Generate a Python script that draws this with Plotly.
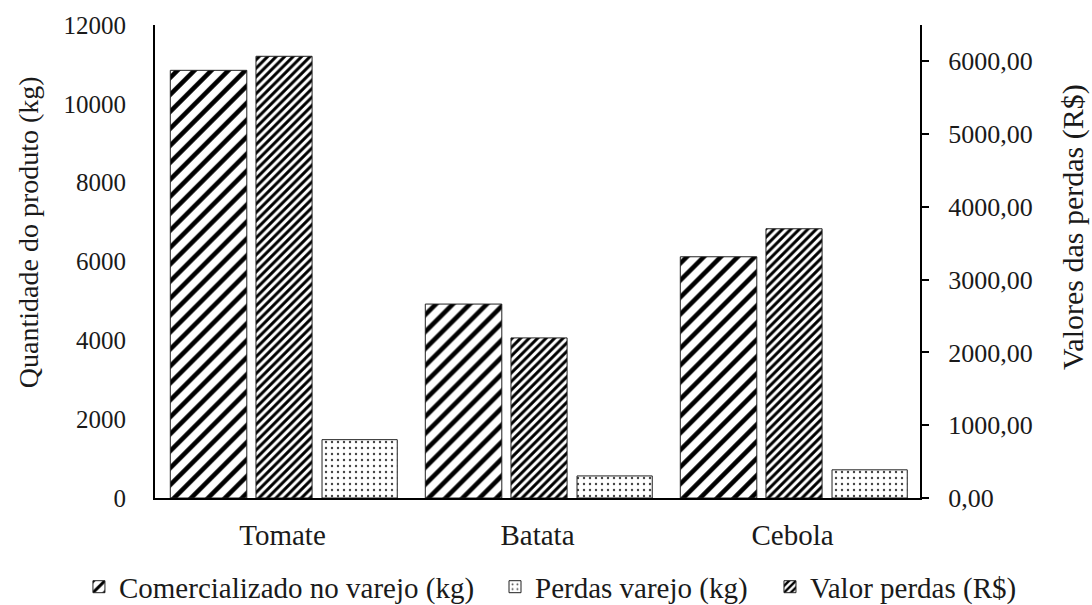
import plotly.graph_objects as go

categories = ["Tomate", "Batata", "Cebola"]
comercializado_kg = [10850, 4920, 6120]
perdas_kg = [1480, 560, 715]
valor_perdas_rs = [6070, 2200, 3700]

left_ticks = [0, 2000, 4000, 6000, 8000, 10000, 12000]
left_ticktext = ["0", "2000", "4000", "6000", "8000", "10000", "12000"]
right_ticks = [0, 1000, 2000, 3000, 4000, 5000, 6000]
right_ticktext = ["0,00", "1000,00", "2000,00", "3000,00", "4000,00", "5000,00", "6000,00"]

FONT = "Liberation Serif"
FS_TICK = 25
FS_CAT = 29
FS_LEG = 29

fig = go.Figure()

fig.add_trace(go.Bar(
    x=categories, y=comercializado_kg, name="Comercializado no varejo (kg)",
    offset=-0.44, width=0.30, yaxis="y", opacity=1, legend="legend",
    marker=dict(color="white", line=dict(color="#222222", width=1),
                pattern=dict(shape="/", fgcolor="black", bgcolor="white", fgopacity=1,
                             size=12, solidity=0.38)),
))
fig.add_trace(go.Bar(
    x=categories, y=perdas_kg, name="Perdas varejo (kg)",
    offset=0.155, width=0.295, yaxis="y", opacity=1, legend="legend2",
    marker=dict(color="white", line=dict(color="#222222", width=1),
                pattern=dict(shape=".", fgcolor="#444444", bgcolor="white", fgopacity=1,
                             size=6, solidity=0.12)),
))
fig.add_trace(go.Bar(
    x=categories, y=valor_perdas_rs, name="Valor perdas (R$)",
    offset=-0.104, width=0.22, yaxis="y2", opacity=1, legend="legend3",
    marker=dict(color="white", line=dict(color="#222222", width=1),
                pattern=dict(shape="/", fgcolor="black", bgcolor="white", fgopacity=1,
                             size=6, solidity=0.5)),
))

def leg(xpos):
    return dict(orientation="h", xref="container", yref="container",
                x=xpos, xanchor="left", y=0.03, yanchor="middle",
                font=dict(family=FONT, size=FS_LEG), itemwidth=30,
                bgcolor="rgba(0,0,0,0)")

fig.update_layout(
    width=1092, height=605,
    margin=dict(l=155, r=172, t=25, b=107),
    paper_bgcolor="white", plot_bgcolor="white",
    font=dict(family=FONT, size=FS_TICK, color="#1a1a1a"),
    barmode="group",
    showlegend=True,
    legend=leg(0.0723),
    legend2=leg(0.4533),
    legend3=leg(0.7051),
    xaxis=dict(range=[-0.5, 2.5], showline=True, linecolor="black", linewidth=2,
               ticks="", showgrid=False, tickfont=dict(size=FS_CAT), ticklabelstandoff=10,
               automargin=False),
    yaxis=dict(range=[0, 12000], tickvals=left_ticks, ticktext=left_ticktext,
               showline=True, linecolor="black", linewidth=2, ticks="", showgrid=False,
               zeroline=False, tickfont=dict(size=FS_TICK), ticklabelstandoff=22, automargin=False),
    yaxis2=dict(overlaying="y", side="right", range=[0, 6500], tickvals=right_ticks,
                ticktext=right_ticktext, showline=True, linecolor="black", linewidth=2,
                ticks="outside", ticklen=7, tickwidth=2, tickcolor="black",
                showgrid=False, zeroline=False, tickfont=dict(size=26), ticklabelstandoff=14,
                automargin=False),
    annotations=[
        dict(text="Quantidade do produto (kg)", xref="paper", yref="paper",
             x=-0.166, y=0.562, xanchor="center", yanchor="middle", textangle=-90,
             showarrow=False, font=dict(family=FONT, size=28, color="#1a1a1a")),
        dict(text="Valores das perdas (R$)", xref="paper", yref="paper",
             x=1.2, y=0.573, xanchor="center", yanchor="middle", textangle=-90,
             showarrow=False, font=dict(family=FONT, size=30, color="#1a1a1a")),
    ],
)

fig.write_html("out.html")
